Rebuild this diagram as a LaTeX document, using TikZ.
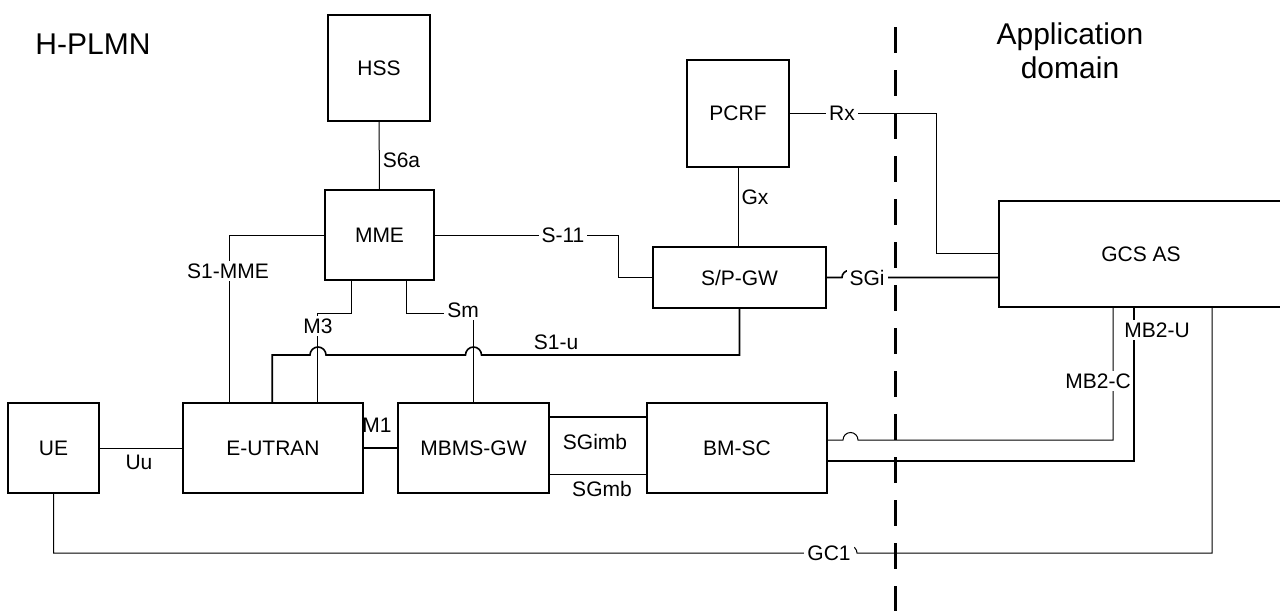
\documentclass[tikz,border=0pt]{standalone}
\usepackage{fontspec}
\setmainfont{Liberation Sans}
\usetikzlibrary{calc}
\newcommand\boxfont{\fontsize{10.5}{12.6}\selectfont}
\newcommand\titlefont{\fontsize{15}{17}\selectfont}
\tikzset{
    net diagram/.style = {x=0.5pt, y=-0.5pt},
    box/.style         = {draw, line width=0.8pt, fill=white, font=\boxfont,
                          inner sep=0pt},
    link/.style        = {line width=0.5pt},
    blink/.style       = {line width=0.8pt},
    iface/.style       = {font=\boxfont, inner sep=1.5pt},
    ifacew/.style      = {iface, fill=white},
    domain line/.style = {line width=1.5pt, dash pattern=on 13pt off 8.5pt},
    title/.style       = {font=\titlefont, align=center}
}

\begin{document}
\begin{tikzpicture}[net diagram]
\useasboundingbox (0,0) rectangle (1280,611);

% ================= Core network =================
\node[box, minimum width=51pt, minimum height=53pt] (hss) at (379,68) {HSS};
\node[box, minimum width=54.5pt, minimum height=45pt] (mme) at (379.5,235) {MME};
\node[box, minimum width=51pt, minimum height=53.5pt] (pcrf) at (738,113.5) {PCRF};
\node[box, minimum width=86.5pt, minimum height=30.5pt] (spgw) at (739.5,277.5) {S/P-GW};

% ================= Radio and broadcast =================
\node[box, minimum width=45.5pt, minimum height=45pt] (ue) at (53.5,448) {UE};
\node[box, minimum width=90pt, minimum height=45pt] (eutran) at (273,448) {E-UTRAN};
\node[box, minimum width=75.5pt, minimum height=45pt] (mbmsgw) at (473.5,448) {MBMS-GW};
\node[box, minimum width=90pt, minimum height=45pt] (bmsc) at (737,448) {BM-SC};

% ================= Application domain =================
\node[box, minimum width=142pt, minimum height=53pt] (gcs) at (1141,254) {GCS AS};

\node[title] (hplmn) at (93,44) {H-PLMN};
\node[title] (appdom) at (1070,51) {Application\\domain};
\draw[domain line] (895,27) -- (895,611);

% ================= Interfaces =================
% S6a, Gx
\draw[link] (hss) -- (mme) node[iface, right, pos=0.57] (s6a) {S6a};
\draw[link] (pcrf.south) -- (pcrf.south |- spgw.north)
    node[iface, right, pos=0.38] (gx) {Gx};

% Rx
\coordinate (rx turn) at (936,253);
\draw[link] (pcrf.east) -| (rx turn) -- (rx turn -| gcs.west);
\node[ifacew] (rx) at (842,113.5) {Rx};

% S-11
\coordinate (s11 turn) at (618,235);
\draw[link] (mme.east) -- (s11 turn) |- (spgw.west);
\node[ifacew] (s11) at (563,235) {S-11};

% SGi
\draw[blink] (spgw.east) -- (842,277.5)
    arc[start angle=180, end angle=360, radius=7] -- (gcs.west |- spgw.east);
\node[ifacew] (sgi) at (867,278) {SGi};

% S1-MME
\coordinate (s1mme turn) at (229,235);
\draw[link] (mme.west) -- (s1mme turn) -- (s1mme turn |- eutran.north);
\node[ifacew] (s1mme) at (228,271) {S1-MME};

% S1-u, hopping over M3 and Sm
\coordinate (s1u drop) at ($(eutran.north west)+(90,0)$);
\coordinate (m3 drop) at ($(eutran.north west)+(135,0)$);
\draw[blink] (spgw.south) |- (481.5,355)
    arc[start angle=0, end angle=-180, radius=8] -- (326,355)
    arc[start angle=0, end angle=-180, radius=8] -- (s1u drop |- 0,355)
    -- (s1u drop);
\node[iface] (s1u) at (556,342) {S1-u};

% M3, Sm
\draw[link] ($(mme.south west)+(27,0)$) |- ($(m3 drop)+(0,-89)$) -- (m3 drop);
\node[ifacew] (m3) at (318,326) {M3};
\draw[link] ($(mme.south west)+(82,0)$) |- ($(mbmsgw.north)+(0,-89)$)
    -- (mbmsgw.north);
\node[ifacew] (sm) at (463,310) {Sm};

% Uu, M1
\draw[link] (ue) -- (eutran);
\node[iface] (uu) at (139,462) {Uu};
\draw[blink] (eutran) -- (mbmsgw);
\node[iface] (m1) at (377,425) {M1};

% SGimb, SGmb
\draw[blink] ($(mbmsgw.east)+(0,-31)$) -- ($(bmsc.west)+(0,-31)$);
\node[iface] (sgimb) at (595,442) {SGimb};
\draw[link] ($(mbmsgw.east)+(0,26)$) -- ($(bmsc.west)+(0,26)$);
\node[iface] (sgmb) at (602,489) {SGmb};

% MB2-C, MB2-U
\coordinate (mb2c foot) at (1113,440);
\draw[link] (mb2c foot |- gcs.south) -- (mb2c foot) -- (858,440)
    arc[start angle=0, end angle=-180, radius=7.5] -- (bmsc.east |- mb2c foot);
\node[ifacew] (mb2c) at (1098,381) {MB2-C};
\coordinate (mb2u foot) at (1134,461);
\draw[blink] (mb2u foot |- gcs.south) -- (mb2u foot) -- (bmsc.east |- mb2u foot);
\node[ifacew] (mb2u) at (1157,330) {MB2-U};

% GC1
\coordinate (gc1 corner) at (1212,553);
\draw[link] (ue.south) |- (843,553)
    arc[start angle=180, end angle=360, radius=7] -- (gc1 corner)
    -- (gc1 corner |- gcs.south);
\node[ifacew] (gc1) at (829,553) {GC1};

\end{tikzpicture}
\end{document}
